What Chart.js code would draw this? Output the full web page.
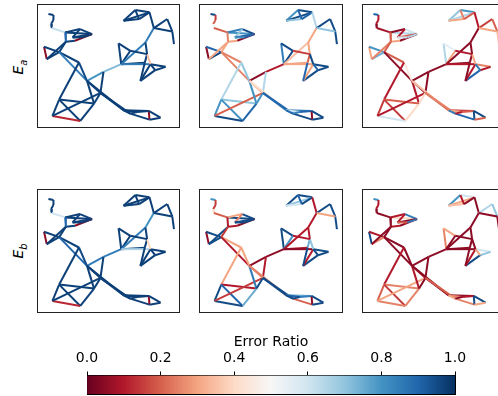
<!DOCTYPE html>
<html>
<head>
<meta charset="utf-8">
<script src="https://cdn.jsdelivr.net/npm/chart.js@4.4.0/dist/chart.umd.min.js"></script>
<style>
  html, body { margin: 0; padding: 0; background: #fff; overflow: hidden; width: 498px; height: 396px; }
  canvas { position: absolute; }
  .ylab { position: absolute; width: 24px; height: 18px; line-height: 18px; text-align: center;
          font-family: 'DejaVu Sans'; font-size: 14px; color: #000; transform: rotate(-90deg); white-space: nowrap; }
  .ylab sub { font-size: 10px; font-style: italic; }
</style>
</head>
<body>
<canvas id="p1" width="144" height="125" style="left:36px;top:3px"></canvas>
<canvas id="p2" width="145" height="125" style="left:198px;top:3px"></canvas>
<canvas id="p3" width="144" height="125" style="left:361px;top:3px"></canvas>
<canvas id="p4" width="144" height="125" style="left:36px;top:188px"></canvas>
<canvas id="p5" width="145" height="125" style="left:198px;top:188px"></canvas>
<canvas id="p6" width="144" height="125" style="left:361px;top:188px"></canvas>
<canvas id="cbar" width="420" height="70" style="left:60px;top:326px"></canvas>
<div class="ylab" style="left:6px;top:58px"><i>E</i><sub>a</sub></div>
<div class="ylab" style="left:6px;top:242px"><i>E</i><sub>b</sub></div>
<script>
// node layout (same network in every panel)
const nodeX = [56, 71, 71, 64, 66, 106, 150, 186, 128, 157, 108, 135, 43, 51, 88, 147, 171, 220, 88, 68,
  151, 192, 211, 280, 300, 355, 357, 390, 320, 265, 273, 300, 345, 350, 343, 360, 330, 405, 374, 315,
  280, 357, 326, 370, 410, 425, 430];
const nodeY = [42, 45, 60, 72, 84, 97, 87, 102, 112, 112, 125, 122, 140, 177, 156, 187, 242, 215, 298, 347,
  362, 310, 278, 330, 340, 332, 358, 352, 335, 130, 192, 152, 127, 162, 188, 192, 242, 200, 210, 30,
  62, 37, 57, 84, 57, 94, 132];

const edgeFrom = [0, 1, 2, 3, 4, 5, 5, 6, 6, 8, 11, 10, 5, 8, 9, 12, 12, 13, 13, 14,
  14, 14, 15, 15, 18, 16, 17, 17, 18, 18, 19, 19, 21, 16, 16, 22, 16, 22, 22, 23,
  23, 24, 28, 25, 25, 26, 23, 24, 29, 29, 31, 30, 32, 33, 34, 30, 35, 37, 38, 35,
  34, 35, 33, 32, 31, 39, 39, 40, 40, 39, 42, 41, 43, 44, 45, 43];
const edgeTo = [1, 2, 3, 4, 5, 7, 6, 7, 8, 7, 7, 11, 10, 9, 7, 13, 14, 14, 10, 10,
  15, 16, 16, 18, 19, 17, 30, 22, 21, 20, 20, 22, 20, 21, 22, 21, 23, 23, 24, 25,
  28, 26, 25, 26, 27, 27, 24, 28, 30, 31, 30, 32, 33, 34, 30, 35, 37, 38, 36, 36,
  36, 38, 35, 43, 33, 40, 41, 41, 42, 42, 41, 43, 44, 45, 46, 45];

// error ratio per edge, one list per panel
const ratioA1 = [.97, .97, .97, .97, .62, .97, .97, .97, .97, .97, .05, .97, .9, .97, .97, .05, .97, .97, .97, .97,
  .97, .85, .95, .97, .97, .8, .72, .97, .97, .97, .12, .97, .97, .97, .97, .97, .97, .97, .97, .97,
  .97, .97, .97, .05, .97, .97, .97, .97, .97, .97, .97, .85, .97, .97, .97, .85, .97, .97, .97, .97,
  .97, .97, .35, .85, .97, .97, .97, .97, .97, .97, .97, .97, .97, .97, .97, .97];
const ratioA2 = [.95, .15, .2, .5, .2, .8, .85, .95, .7, .9, .05, .3, .25, .8, .9, .05, .9, .95, .3, .3,
  .25, .25, .7, .65, .8, .05, .1, .65, .7, .8, .95, .2, .9, .8, .3, .8, .4, .85, .9, .85,
  .6, .95, .9, .05, .95, .95, .9, .85, .85, .95, .95, .35, .3, .2, .3, .3, .95, .95, .95, .3,
  .9, .9, .95, .3, .15, .8, .95, .95, .7, .9, .9, .65, .95, .95, .95, .7];
const ratioA3 = [.9, .1, .1, .05, .08, .65, .05, .6, .1, .2, .05, .3, .2, .6, .65, .3, .8, .75, .25, .2,
  .2, .05, .45, .1, .15, .05, .05, .05, .2, .15, .6, .1, .4, .1, .05, .4, .35, .2, .25, .15,
  .3, .9, .2, .95, .95, .2, .85, .1, .65, .55, .3, .05, .05, .05, .05, .1, .25, .1, .9, .1,
  .05, .85, .3, .05, .1, .7, .8, .65, .3, .25, .2, .1, .15, .2, .35, .3];
const ratioB1 = [.97, .97, .97, .97, .6, .97, .97, .97, .97, .97, .05, .97, .9, .97, .97, .05, .97, .97, .97, .97,
  .97, .9, .95, .97, .97, .85, .85, .97, .97, .97, .12, .97, .97, .97, .97, .97, .97, .97, .97, .97,
  .97, .97, .97, .05, .97, .97, .97, .97, .97, .97, .97, .85, .97, .97, .97, .65, .97, .97, .97, .97,
  .97, .97, .4, .8, .97, .97, .97, .97, .97, .97, .97, .97, .97, .97, .97, .97];
const ratioB2 = [.8, .15, .15, .4, .2, .95, .3, .95, .25, .95, .05, .1, .1, .95, .95, .05, .95, .95, .95, .15,
  .3, .1, .3, .3, .95, .05, .05, .1, .1, .9, .95, .15, .75, .85, .25, .95, .25, .95, .95, .75,
  .9, .2, .85, .05, .95, .95, .95, .95, .95, .95, .8, .1, .1, .75, .1, .05, .95, .95, .95, .1,
  .95, .95, .7, .1, .1, .95, .95, .7, .6, .9, .95, .1, .95, .95, .95, .3];
const ratioB3 = [.8, .1, .1, .05, .05, .4, .1, .85, .1, .05, .05, .1, .05, .2, .85, .95, .1, .25, .05, .05,
  .05, .05, .05, .1, .2, .05, .05, .05, .25, .15, .25, .3, .25, .1, .1, .05, .05, .05, .2, .05,
  .25, .25, .1, .95, .95, .3, .3, .05, .25, .3, .05, .05, .05, .05, .05, .05, .6, .7, .95, .1,
  .05, .3, .05, .05, .05, .8, .6, .3, .35, .1, .05, .05, .65, .7, .05, .05];

const cbTicks = [0, 0.2, 0.4, 0.6, 0.8, 1.0];

// RdBu colormap
const rdbu = ['#67001f', '#b2182b', '#d6604d', '#f4a582', '#fddbc7', '#f7f7f7',
  '#d1e5f0', '#92c5de', '#4393c3', '#2166ac', '#053061'];

function hexRgb(h) {
  return [parseInt(h.substr(1, 2), 16), parseInt(h.substr(3, 2), 16), parseInt(h.substr(5, 2), 16)];
}

function cmap(v) {
  let t = Math.max(0, Math.min(1, v)) * 10;
  let i = Math.min(9, Math.floor(t));
  let f = t - i;
  let a = hexRgb(rdbu[i]), b = hexRgb(rdbu[i + 1]);
  let c = a.map((x, k) => Math.round(x + (b[k] - x) * f));
  return 'rgb(' + c.join(',') + ')';
}

const frame = { color: '#222', width: 1 };
const hidden = { display: false, drawTicks: false };

function networkChart(id, ratios) {
  let datasets = [];
  for (let i = 0; i < edgeFrom.length; i++) {
    let a = edgeFrom[i], b = edgeTo[i];
    datasets.push({
      data: [{ x: nodeX[a], y: nodeY[a] }, { x: nodeX[b], y: nodeY[b] }],
      showLine: true,
      borderColor: cmap(ratios[i]),
      borderWidth: 2,
      pointRadius: 0,
      fill: false,
      order: -i  // later edges on top, like a line collection
    });
  }
  new Chart(document.getElementById(id), {
    type: 'scatter',
    data: { datasets: datasets },
    options: {
      responsive: false,
      animation: false,
      layout: { padding: 1 },
      plugins: { legend: { display: false }, tooltip: { enabled: false } },
      scales: {
        x: { min: 22, max: 445, ticks: { display: false }, grid: hidden, border: frame },
        x2: { position: 'top', min: 22, max: 445, ticks: { display: false }, grid: hidden, border: frame },
        y: { min: 12, max: 380, reverse: true, ticks: { display: false }, grid: hidden, border: frame },
        y2: { position: 'right', min: 12, max: 380, ticks: { display: false }, grid: hidden, border: frame }
      }
    }
  });
}

networkChart('p1', ratioA1);
networkChart('p2', ratioA2);
networkChart('p3', ratioA3);
networkChart('p4', ratioB1);
networkChart('p5', ratioB2);
networkChart('p6', ratioB3);

// colorbar
const font = { family: 'DejaVu Sans', size: 14, weight: 'normal' };
new Chart(document.getElementById('cbar'), {
  type: 'bar',
  data: {
    labels: [''],
    datasets: [{
      data: [[0, 1]],
      backgroundColor: function (ctx) {
        let area = ctx.chart.chartArea;
        if (!area) return '#fff';
        let g = ctx.chart.ctx.createLinearGradient(area.left, 0, area.right, 0);
        rdbu.forEach((c, i) => g.addColorStop(i / 10, c));
        return g;
      },
      borderWidth: 0,
      barPercentage: 1,
      categoryPercentage: 1
    }]
  },
  options: {
    indexAxis: 'y',
    responsive: false,
    animation: false,
    layout: { padding: { left: 27, right: 25, top: 9, bottom: 2 } },
    plugins: {
      legend: { display: false },
      tooltip: { enabled: false },
      title: { display: true, text: 'Error Ratio', color: '#000',
               font: { family: 'DejaVu Sans', size: 14, weight: 'normal', lineHeight: 1.0 },
               padding: { top: 0, bottom: -3 } }
    },
    scales: {
      x: {
        type: 'linear', position: 'top', min: 0, max: 1,
        afterBuildTicks: s => { s.ticks = cbTicks.map(v => ({ value: v })); },
        ticks: { color: '#000', font: font, padding: 5, maxRotation: 0, callback: v => v.toFixed(1) },
        grid: { drawOnChartArea: false, drawTicks: true, tickLength: 4, color: '#000' },
        border: { color: '#000', width: 1 }
      },
      x2: { type: 'linear', position: 'bottom', min: 0, max: 1, ticks: { display: false }, grid: hidden, border: { color: '#000', width: 1 } },
      y: { ticks: { display: false }, grid: hidden, border: { color: '#000', width: 1 } },
      y2: { type: 'linear', position: 'right', ticks: { display: false }, grid: hidden, border: { color: '#000', width: 1 } }
    }
  }
});
</script>
</body>
</html>
